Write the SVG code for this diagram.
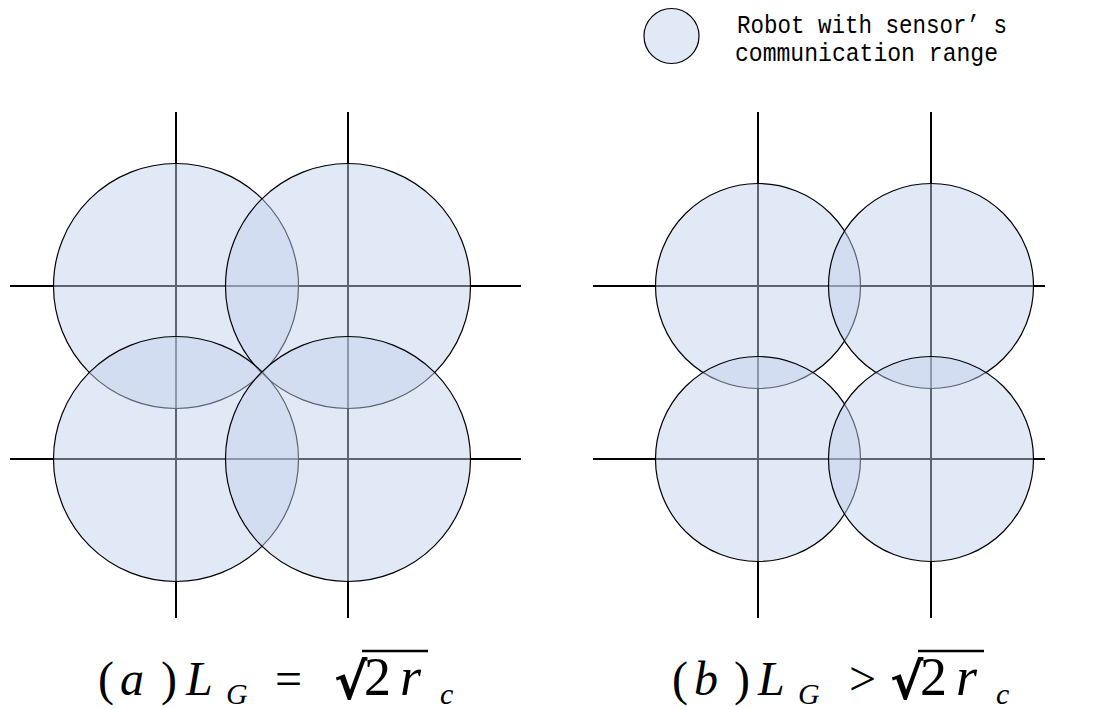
<svg xmlns="http://www.w3.org/2000/svg" width="1100" height="709" viewBox="0 0 1100 709">
<style>
.grid{stroke:#000;stroke-width:2;fill:none}
.robot{fill:#c3d1ec;fill-opacity:0.48;stroke:#000;stroke-width:1.2}
.leg{font-family:"Liberation Mono",monospace;font-size:25px;fill:#000}
.f{font-family:"Liberation Serif","Times New Roman",serif;font-size:48px;fill:#000}
.fi{font-style:italic}
.big{font-size:54px}
.rad{font-family:"DejaVu Sans",sans-serif;font-size:50px;font-weight:bold}
.sub{font-size:30px}
.bar{stroke:#000;stroke-width:2.5}
</style>
<rect width="1100" height="709" fill="#fff"/>
<g id="legend">
<circle class="robot" cx="671.5" cy="36" r="27.5"/>
<text class="leg" x="737" y="33" textLength="270" lengthAdjust="spacingAndGlyphs">Robot with sensor’ s</text>
<text class="leg" x="735" y="61" textLength="263" lengthAdjust="spacingAndGlyphs">communication range</text>
</g>
<g id="connectors">
<line class="grid" x1="176" y1="112" x2="176" y2="618"/>
<line class="grid" x1="348" y1="112" x2="348" y2="618"/>
<line class="grid" x1="10" y1="286" x2="521" y2="286"/>
<line class="grid" x1="10" y1="459" x2="521" y2="459"/>
<line class="grid" x1="758" y1="112" x2="758" y2="618"/>
<line class="grid" x1="931" y1="112" x2="931" y2="618"/>
<line class="grid" x1="593" y1="286" x2="1045" y2="286"/>
<line class="grid" x1="593" y1="459" x2="1045" y2="459"/>
</g>
<g id="robot-a1"><circle class="robot" cx="176" cy="286" r="122.5"/></g>
<g id="robot-a2"><circle class="robot" cx="348" cy="286" r="122.5"/></g>
<g id="robot-a3"><circle class="robot" cx="176" cy="459" r="122.5"/></g>
<g id="robot-a4"><circle class="robot" cx="348" cy="459" r="122.5"/></g>
<g id="robot-b1"><circle class="robot" cx="758" cy="286" r="102.5"/></g>
<g id="robot-b2"><circle class="robot" cx="931" cy="286" r="102.5"/></g>
<g id="robot-b3"><circle class="robot" cx="758" cy="459" r="102.5"/></g>
<g id="robot-b4"><circle class="robot" cx="931" cy="459" r="102.5"/></g>
<g id="label-a">
<text class="f" y="695"><tspan x="98">(</tspan><tspan class="fi" x="120">a</tspan><tspan x="161">)</tspan><tspan class="fi" x="186">L</tspan><tspan class="fi sub" x="226" dy="9">G</tspan><tspan x="275" dy="-9">=</tspan><tspan class="rad" x="334" dy="4">√</tspan><tspan class="big" x="364" dy="-4">2</tspan><tspan class="fi big" x="400">r</tspan><tspan class="fi sub" x="440" dy="9">c</tspan></text>
<line class="bar" x1="362" y1="651" x2="428" y2="651"/>
</g>
<g id="label-b">
<text class="f" y="695"><tspan x="672">(</tspan><tspan class="fi" x="694">b</tspan><tspan x="734">)</tspan><tspan class="fi" x="758">L</tspan><tspan class="fi sub" x="798" dy="9">G</tspan><tspan x="849" dy="-9">&gt;</tspan><tspan class="rad" x="890" dy="4">√</tspan><tspan class="big" x="920" dy="-4">2</tspan><tspan class="fi big" x="956">r</tspan><tspan class="fi sub" x="996" dy="9">c</tspan></text>
<line class="bar" x1="918" y1="651" x2="984" y2="651"/>
</g>
</svg>
